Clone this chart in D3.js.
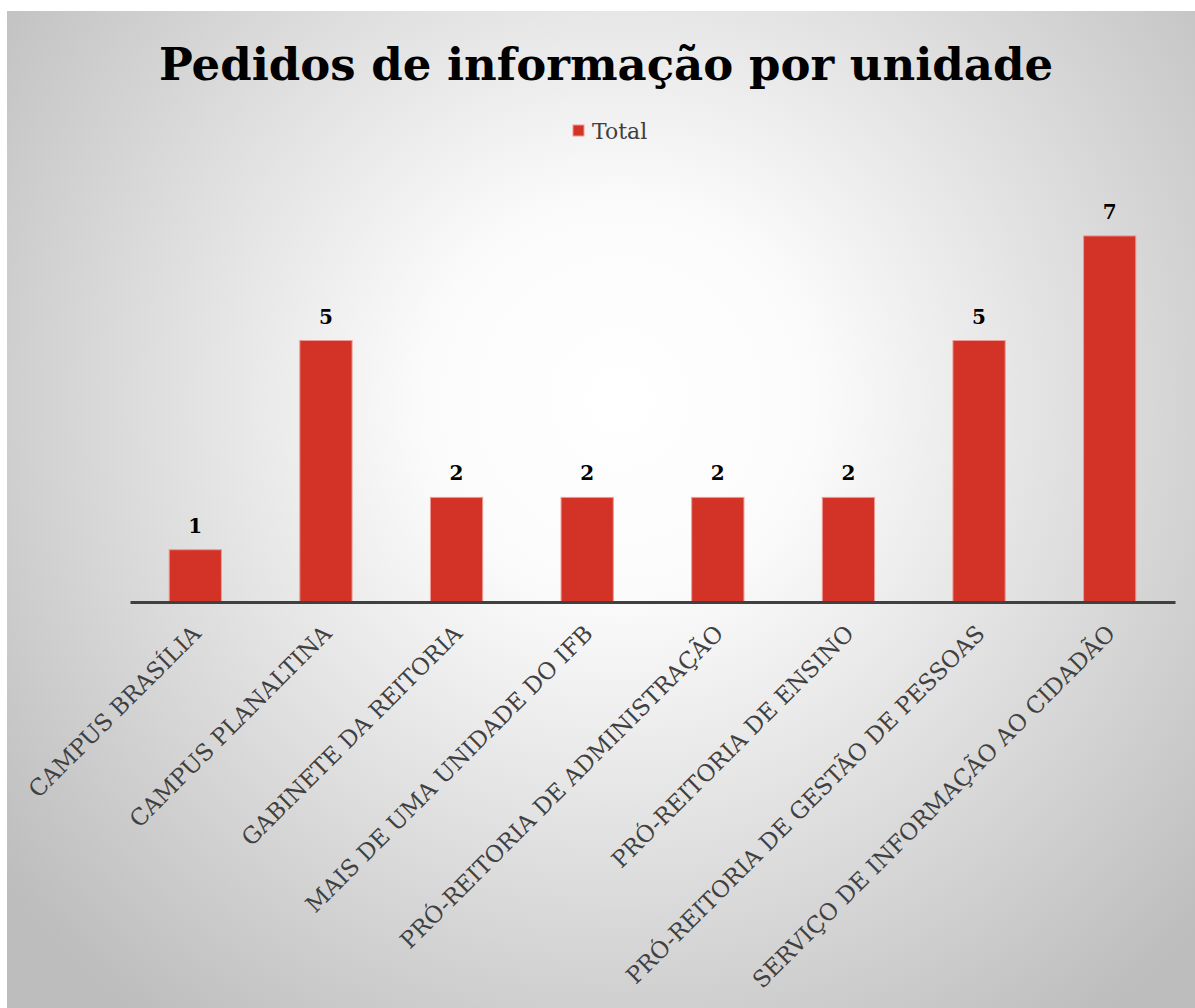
<!DOCTYPE html>
<html>
<head>
<meta charset="utf-8">
<script src="https://cdn.jsdelivr.net/npm/d3@7"></script>
<style>
  body { margin: 0; background: #fff; }
  text { font-family: "DejaVu Serif", "Liberation Serif", serif; }
</style>
</head>
<body>
<script>
// data
const categories = [
    "CAMPUS BRASÍLIA",
    "CAMPUS PLANALTINA",
    "GABINETE DA REITORIA",
    "MAIS DE UMA UNIDADE DO IFB",
    "PRÓ-REITORIA DE ADMINISTRAÇÃO",
    "PRÓ-REITORIA DE ENSINO",
    "PRÓ-REITORIA DE GESTÃO DE PESSOAS",
    "SERVIÇO DE INFORMAÇÃO AO CIDADÃO"
];
const totals = [1, 5, 2, 2, 2, 2, 5, 7];
const seriesName = "Total";
const chartTitle = "Pedidos de informação por unidade";

const width = 1195, height = 1008;

const svg = d3.select("body").append("svg")
    .attr("width", width)
    .attr("height", height);

// background gradient like the office chart style
const defs = svg.append("defs");
const grad = defs.append("radialGradient")
    .attr("id", "bg")
    .attr("gradientUnits", "userSpaceOnUse")
    .attr("cx", 620).attr("cy", 400).attr("r", 780);
grad.append("stop").attr("offset", "0%").attr("stop-color", "#ffffff");
grad.append("stop").attr("offset", "25%").attr("stop-color", "#fbfbfb");
grad.append("stop").attr("offset", "100%").attr("stop-color", "#bdbdbd");

svg.append("rect")
    .attr("x", 7).attr("y", 11)
    .attr("width", width - 7).attr("height", height - 11)
    .attr("fill", "url(#bg)");

const baseY = 602;
const x = d3.scaleBand()
    .domain(categories)
    .range([130, 1175])
    .paddingInner(0.6)
    .paddingOuter(0.3);

const y = d3.scaleLinear()
    .domain([0, 8])
    .range([baseY, baseY - 8 * 52.3]);

// bars
svg.append("g")
    .selectAll("rect")
    .data(categories)
    .join("rect")
        .attr("x", d => x(d))
        .attr("y", (d, i) => y(totals[i]))
        .attr("width", x.bandwidth())
        .attr("height", (d, i) => baseY - y(totals[i]))
        .attr("fill", "#d33327")
        .attr("stroke", "#ee9a93")
        .attr("stroke-width", 1);

// value labels
svg.append("g")
    .selectAll("text")
    .data(categories)
    .join("text")
        .attr("x", d => x(d) + x.bandwidth() / 2)
        .attr("y", (d, i) => y(totals[i]) - 17)
        .attr("text-anchor", "middle")
        .attr("font-size", 20)
        .attr("font-weight", "bold")
        .attr("fill", "#000")
        .text((d, i) => totals[i]);

// x axis
const xAxis = svg.append("g")
    .attr("transform", `translate(0,${baseY})`)
    .call(d3.axisBottom(x).tickSize(0).tickPadding(0));
xAxis.select(".domain")
    .attr("stroke", "#404040")
    .attr("stroke-width", 3);
xAxis.selectAll(".tick text")
    .attr("font-family", "\"DejaVu Serif\", serif")
    .attr("font-size", 23)
    .attr("fill", "#404040")
    .attr("text-anchor", "end")
    .attr("dy", 0)
    .attr("transform", "translate(7,33) rotate(-45)");

// title
svg.append("text")
    .attr("x", 606)
    .attr("y", 80)
    .attr("text-anchor", "middle")
    .attr("font-size", 45)
    .attr("font-weight", "bold")
    .attr("fill", "#000")
    .text(chartTitle);

// legend
const legend = svg.append("g").attr("transform", "translate(573,125)");
legend.append("rect")
    .attr("width", 11).attr("height", 11)
    .attr("fill", "#d33327")
    .attr("stroke", "#ee9a93");
legend.append("text")
    .attr("x", 19).attr("y", 14)
    .attr("font-size", 22)
    .attr("fill", "#404040")
    .text(seriesName);
</script>
</body>
</html>
